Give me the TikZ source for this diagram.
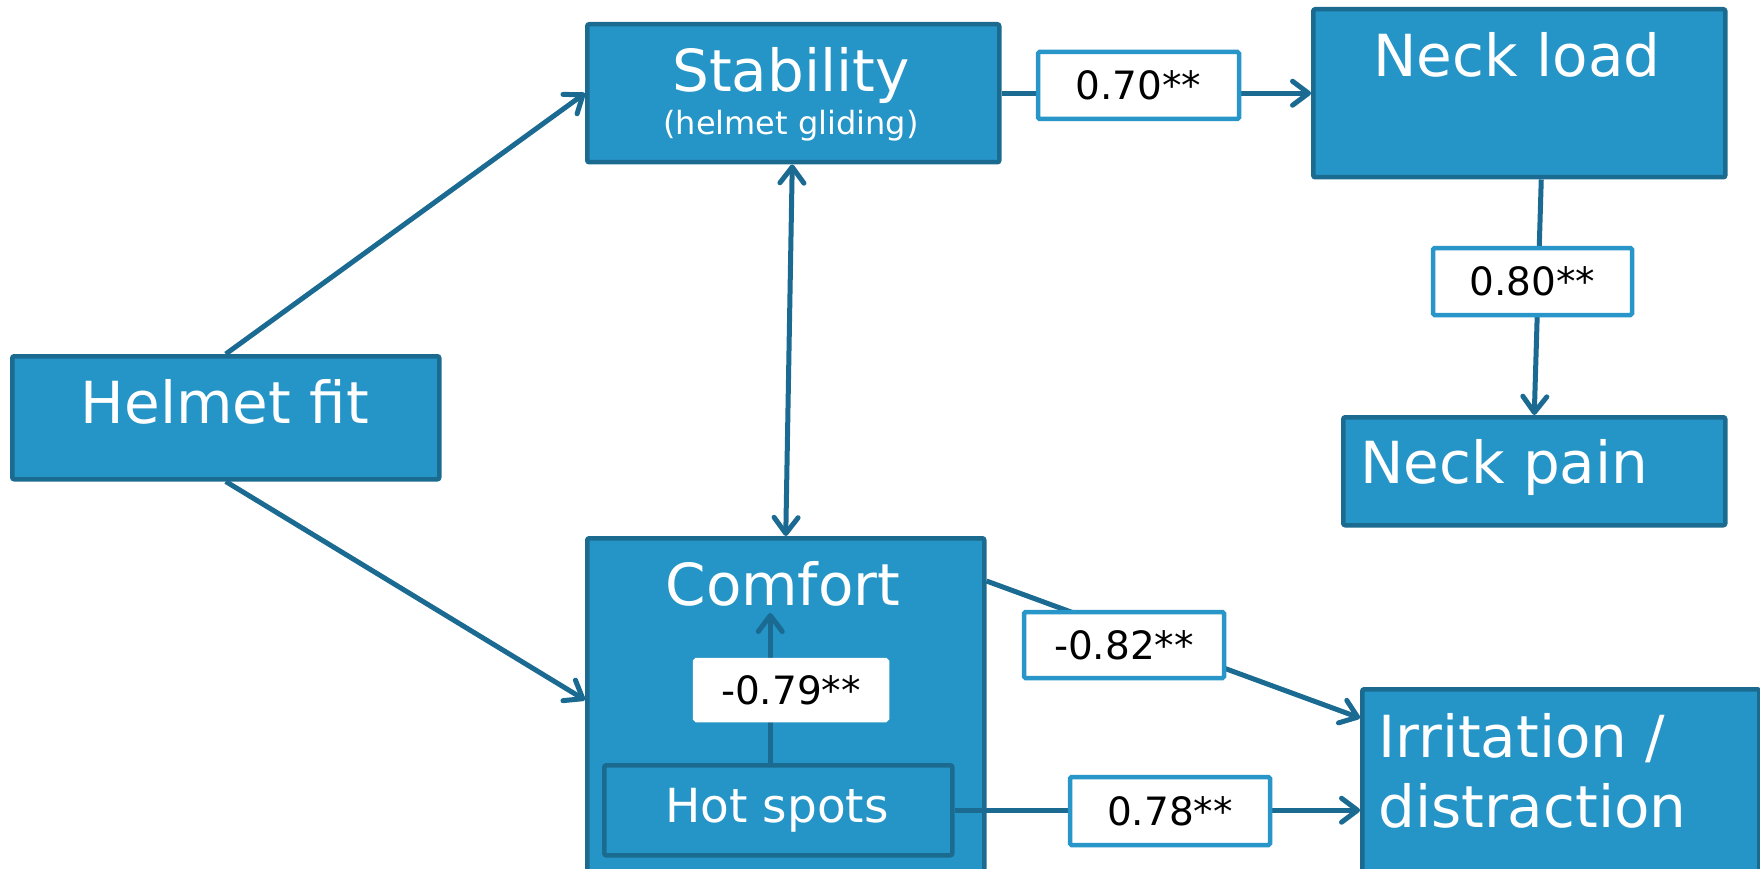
\documentclass[tikz,border=0pt]{standalone}
\usepackage{fontspec}
\setmainfont{DejaVu Sans}
\usetikzlibrary{arrows.meta,calc}

\definecolor{boxfill}{RGB}{37,148,198}
\definecolor{boxline}{RGB}{27,107,145}
\definecolor{linkcol}{RGB}{26,106,146}
\definecolor{tagline}{RGB}{40,150,200}

\tikzset{
  varbox/.style={draw=boxline, fill=boxfill, line width=4.5pt, rounded corners=2pt,
    inner sep=0pt, anchor=north west},
  bigtext/.style={text=white, font=\fontsize{58}{70}\selectfont, inner sep=0pt, anchor=base},
  tag/.style={draw=tagline, fill=white, line width=4.5pt, rounded corners=1.5pt, inner sep=0pt,
    text=black, font=\fontsize{39}{46}\selectfont},
  link/.style={draw=linkcol, line width=5pt,
    -{Straight Barb[length=16pt,width=24pt,round]}},
}

\begin{document}
\begin{tikzpicture}[x=1pt, y=-1pt]
  \useasboundingbox (0,0) rectangle (1760,869);
  \clip (0,0) rectangle (1760,869);

  % variable boxes
  \node[varbox, minimum width=427pt, minimum height=123pt] (helmet) at (10,354) {};
  \node[varbox, minimum width=412pt, minimum height=138pt] (stability) at (585,22) {};
  \node[varbox, minimum width=412pt, minimum height=168pt] (necklaod) at (1311,7) {};
  \node[varbox, minimum width=382pt, minimum height=108pt] (neckpain) at (1341,415) {};
  \node[varbox, minimum width=397pt, minimum height=364pt] (comfort) at (585,536) {};
  \node[varbox, minimum width=397pt, minimum height=213pt] (irritation) at (1360,687) {};
  \node[varbox, minimum width=348pt, minimum height=90pt] (hotspots) at (602,763) {};

  % box texts
  \node[bigtext] (helmettxt) at (225,423) {Helmet fit};
  \node[bigtext] (stabtxt) at (791,92) {Stability};
  \node[text=white, font=\fontsize{32}{38}\selectfont, inner sep=0pt, anchor=base] (stabsub) at (791,135) {(helmet gliding)};
  \node[bigtext] (necklaodtxt) at (1517,77) {Neck load};
  \node[bigtext, anchor=base west] (neckpaintxt) at (1360,483) {Neck pain};
  \node[bigtext] (comforttxt) at (783,605) {Comfort};
  \node[text=white, font=\fontsize{47}{56}\selectfont, inner sep=0pt, anchor=base] (hotspotstxt) at (777,822) {Hot spots};
  \node[bigtext, anchor=base west] (irrtxt1) at (1378,757) {Irritation /};
  \node[bigtext, anchor=base west] (irrtxt2) at (1378,827) {distraction};

  % end point of the hot spots arrow, just below the comfort title
  \coordinate (comforttip) at ([xshift=-8pt, yshift=150pt]hotspots.north);

  % connectors
  \draw[link] (helmet.north) -- (stability.west);
  \draw[link] (helmet.south) -- ([yshift=-164pt]comfort.north west);
  \draw[link, {Straight Barb[length=16pt,width=24pt,round]}-{Straight Barb[length=16pt,width=24pt,round]}]
    ([xshift=-1pt]stability.south) -- (comfort.north);
  \draw[link] (stability.east) -- (necklaod.west);
  \draw[link] ([xshift=22pt]necklaod.south) -- (neckpain.north);
  \draw[link] ([xshift=-8pt]hotspots.north) -- (comforttip);
  \draw[link] ([yshift=-45pt]comfort.north east) -- ([yshift=-31pt]irritation.north west);
  \draw[link] (hotspots.east) -- (hotspots.east -| irritation.west);

  % coefficient tags
  \node[tag, minimum width=201pt, minimum height=67pt] (t70) at (1138.5,85.5) {0.70**};
  \node[tag, minimum width=199pt, minimum height=67pt] (t80) at (1532.5,281.5) {0.80**};
  \node[tag, draw=white, minimum width=192pt, minimum height=60pt] (t79) at (791,690) {-0.79**};
  \node[tag, minimum width=200pt, minimum height=66pt] (t82) at (1124,645) {-0.82**};
  \node[tag, minimum width=200pt, minimum height=68pt] (t78) at (1170,811) {0.78**};
\end{tikzpicture}
\end{document}
